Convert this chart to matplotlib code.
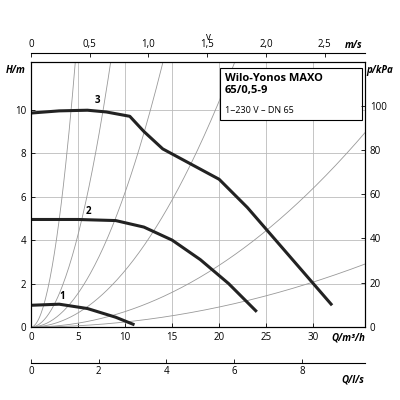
import numpy as np
import matplotlib.pyplot as plt

plt.rcParams['font.family'] = ['Open Sans', 'DejaVu Sans']
plt.rcParams['font.size'] = 7

# pump curves (Q m3/h, H m)
q3 = [0, 3, 6, 8, 10.5, 12, 14, 17, 20, 23, 26, 29, 32]
h3 = [9.85, 9.95, 9.98, 9.9, 9.7, 9.0, 8.2, 7.5, 6.8, 5.5, 4.0, 2.5, 1.0]
q2 = [0, 5, 9, 12, 15, 18, 21, 24]
h2 = [4.95, 4.95, 4.9, 4.6, 4.0, 3.1, 2.0, 0.7]
q1 = [0, 3, 6, 9, 11]
h1 = [1.0, 1.05, 0.85, 0.45, 0.1]
# system curve coefficients H = k*Q^2
k_sys = [0.55, 0.17, 0.062, 0.026, 0.0071, 0.0023]

QMAX, HMAX = 35.5, 12.2

fig = plt.figure(figsize=(4, 4), dpi=100)
ax = fig.add_axes([0.0775, 0.1825, 0.835, 0.6625])

qq = np.linspace(0, QMAX, 300)
for k in k_sys:
    ax.plot(qq, k * qq**2, color='#999999', lw=0.6)

for q, h in [(q1, h1), (q2, h2), (q3, h3)]:
    ax.plot(q, h, color='#222222', lw=2.2, solid_capstyle='butt')
ax.text(3.0, 1.3, '1', fontweight='bold', fontsize=7)
ax.text(5.8, 5.2, '2', fontweight='bold', fontsize=7)
ax.text(6.8, 10.3, '3', fontweight='bold', fontsize=7)

ax.set_xlim(0, QMAX)
ax.set_ylim(0, HMAX)
ax.set_xticks(range(0, 35, 5))
ax.set_yticks(range(0, 12, 2))
ax.grid(True, color='#bbbbbb', lw=0.6)
ax.tick_params(direction='in', length=3, width=0.6)
for s in ax.spines.values():
    s.set_linewidth(0.8)

axr = ax.twinx()
axr.set_ylim(0, HMAX * 9.81)
axr.set_yticks(range(0, 120, 20))
axr.tick_params(direction='in', length=3, width=0.6)

ax.text(-0.045, 0.96, 'H/m', transform=ax.transAxes, style='italic', fontweight='bold', ha='center')
ax.text(1.045, 0.96, 'p/kPa', transform=ax.transAxes, style='italic', fontweight='bold', ha='center')
ax.text(1.0, -0.05, 'Q/m³/h', transform=ax.transAxes, style='italic', fontweight='bold', ha='right')

# legend box
ax.add_patch(plt.Rectangle((0.565, 0.78), 0.425, 0.197, transform=ax.transAxes,
                           fill=True, fc='white', ec='black', lw=0.8, zorder=3))
ax.text(0.58, 0.96, 'Wilo-Yonos MAXO\n65/0,5-9', transform=ax.transAxes, fontweight='bold',
        fontsize=8, va='top', linespacing=1.2, zorder=4)
ax.text(0.58, 0.80, '1~230 V – DN 65', transform=ax.transAxes, fontsize=6.5, va='bottom', zorder=4)

# top velocity axis
axv = fig.add_axes([0.0775, 1 - 53 / 400, 0.835, 0.0001])
axv.set_xlim(0, QMAX * 0.0801)
axv.set_xticks([0, 0.5, 1.0, 1.5, 2.0, 2.5])
axv.set_xticklabels(['0', '0,5', '1,0', '1,5', '2,0', '2,5'])
axv.xaxis.tick_top()
axv.tick_params(direction='in', length=3, width=0.6, pad=2)
axv.set_yticks([])
for n in ['left', 'right', 'bottom']:
    axv.spines[n].set_visible(False)
fig.text(0.52, 1 - 37 / 400, 'v', ha='center', va='center')
fig.text(0.905, 1 - 45 / 400, 'm/s', style='italic', fontweight='bold', ha='right', va='center')

# bottom l/s axis
axl = fig.add_axes([0.0775, 1 - 363 / 400, 0.835, 0.0001])
axl.set_xlim(0, QMAX / 3.6)
axl.set_xticks(range(0, 10, 2))
axl.tick_params(direction='in', length=3, width=0.6, pad=2)
axl.set_yticks([])
for n in ['left', 'right', 'top']:
    axl.spines[n].set_visible(False)
fig.text(0.91, 1 - 380 / 400, 'Q/l/s', style='italic', fontweight='bold', ha='right', va='center')

fig.savefig('out.png', dpi=100)
